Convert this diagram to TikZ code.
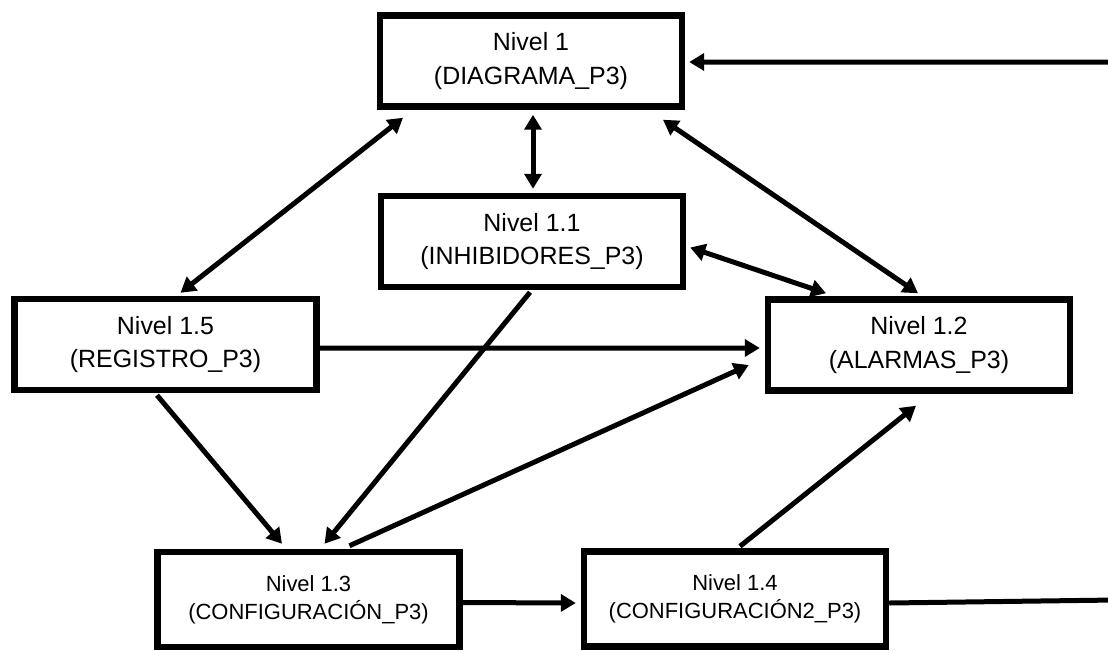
\documentclass[tikz,border=0pt]{standalone}
\usepackage{fontspec}
\setmainfont{Liberation Sans}
\usetikzlibrary{arrows.meta}

\begin{document}
\begin{tikzpicture}[x=0.02cm, y=-0.02cm,
    nivel/.style={draw, line width=0.13cm, minimum width=6.04cm, minimum height=1.82cm,
                  align=center, font=\fontsize{14.2}{19}\selectfont},
    nivelbajo/.style={nivel, minimum height=1.9cm, font=\fontsize{12.5}{16}\selectfont},
    flecha/.style={line width=0.1cm, -{Triangle[length=0.3cm,width=0.34cm]}},
    doble/.style={flecha, {Triangle[length=0.3cm,width=0.34cm]}-{Triangle[length=0.3cm,width=0.34cm]}}]

    \useasboundingbox (0,0) rectangle (1108,650);

    % levels
    \node[nivel] (n1)  at (531,61)    {Nivel 1\\(DIAGRAMA\_P3)};
    \node[nivel] (n11) at (532,241.5) {Nivel 1.1\\(INHIBIDORES\_P3)};
    \node[nivel] (n15) at (165.5,344.5) {Nivel 1.5\\(REGISTRO\_P3)};
    \node[nivel] (n12) at (919,345)   {Nivel 1.2\\(ALARMAS\_P3)};
    \node[nivelbajo] (n13) at (308.5,599.5) {Nivel 1.3\\(CONFIGURACIÓN\_P3)};
    \node[nivelbajo] (n14) at (735,599)     {Nivel 1.4\\(CONFIGURACIÓN2\_P3)};

    % two-way links
    \draw[doble] ([shift={(15,-3)}]n15.north) -- ([shift={(-128,8)}]n1.south);
    \draw[doble] ([shift={(2,5)}]n1.south) -- ([shift={(1,-4)}]n11.north);
    \draw[doble] ([shift={(132,10)}]n1.south) -- ([shift={(-1,-3)}]n12.north);
    \draw[doble] ([shift={(4,6)}]n11.east) -- ([shift={(-93,-3)}]n12.north);

    % one-way links
    \draw[flecha] ([shift={(0,3.5)}]n15.east) -- ([shift={(-5,3)}]n12.west);
    \draw[flecha] ([shift={(-2,2)}]n11.south) -- ([shift={(16,-5)}]n13.north);
    \draw[flecha] ([shift={(41,-3)}]n13.north) -- ([shift={(-16,20)}]n12.west);
    \draw[flecha] ([shift={(-8.5,2)}]n15.south) -- ([shift={(-26.5,-5)}]n13.north);
    \draw[flecha] ([shift={(0,3)}]n13.east) -- ([shift={(-5,4)}]n14.west);
    \draw[flecha] ([shift={(5,-2)}]n14.north) -- ([shift={(-3,12)}]n12.south);

    % return path (runs off the right edge)
    \coordinate (abajo)  at (1115,600);
    \coordinate (arriba) at (1115,62);
    \draw[flecha] ([shift={(0,4)}]n14.east) -- (abajo) -- (arriba) -- ([shift={(4,1)}]n1.east);

\end{tikzpicture}
\end{document}
